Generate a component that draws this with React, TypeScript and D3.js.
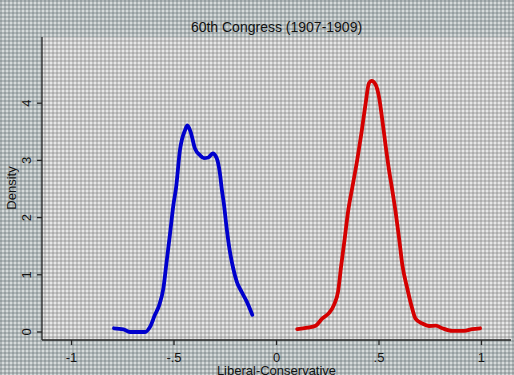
import React from "react";
import * as d3 from "d3";

const demX = [-0.793, -0.747, -0.715, -0.641, -0.617, -0.593, -0.572, -0.552, -0.536, -0.52, -0.503, -0.49, -0.471, -0.446, -0.435, -0.419, -0.398, -0.373, -0.354, -0.333, -0.311, -0.292, -0.276, -0.267, -0.256, -0.243, -0.227, -0.211, -0.194, -0.17, -0.145, -0.118];
const demY = [0.065, 0.047, 0.0, 0.0, 0.09, 0.3, 0.47, 0.76, 1.23, 1.7, 2.22, 2.52, 3.18, 3.53, 3.61, 3.5, 3.21, 3.09, 3.04, 3.05, 3.12, 3.04, 2.77, 2.5, 2.22, 1.81, 1.4, 1.11, 0.88, 0.7, 0.53, 0.3];
const repX = [0.101, 0.15, 0.191, 0.224, 0.256, 0.28, 0.3, 0.316, 0.333, 0.349, 0.37, 0.394, 0.414, 0.435, 0.451, 0.464, 0.484, 0.5, 0.516, 0.533, 0.549, 0.563, 0.581, 0.598, 0.614, 0.638, 0.662, 0.679, 0.711, 0.744, 0.777, 0.809, 0.858, 0.915, 0.955, 0.993];
const repY = [0.05, 0.075, 0.11, 0.24, 0.33, 0.47, 0.7, 1.17, 1.64, 2.1, 2.53, 3.01, 3.47, 4.0, 4.35, 4.39, 4.32, 4.11, 3.71, 3.24, 2.83, 2.52, 2.1, 1.64, 1.17, 0.76, 0.41, 0.23, 0.15, 0.105, 0.11, 0.065, 0.02, 0.02, 0.05, 0.065];
const xTicks = [-1, -0.5, 0, 0.5, 1];
const xTickLabels = ["-1", "-.5", "0", ".5", "1"];
const yTicks = [0, 1, 2, 3, 4];
const title = "60th Congress (1907-1909)";
const xTitle = "Liberal-Conservative";
const yTitle = "Density";

const W = 514, H = 375;
const L = 42, R = 511, T = 37, B = 340;

export default function App() {
  const x = d3.scaleLinear().domain([-1.144, 1.144]).range([L, R]);
  const y = d3.scaleLinear().domain([-0.14, 5.157]).range([B, T]);
  const line = d3.line<number>().curve(d3.curveMonotoneX);
  const demPts: [number, number][] = demX.map((v, i) => [x(v), y(demY[i])]);
  const repPts: [number, number][] = repX.map((v, i) => [x(v), y(repY[i])]);
  const font = "Liberation Sans, Arial, Helvetica, sans-serif";
  return (
    <svg width={W} height={H} style={{ position: "absolute", left: 0, top: 0 }}>
      <defs>
        <pattern id="outer" width={4} height={4} patternUnits="userSpaceOnUse">
          <rect width={4} height={4} fill="#d6dbdb" />
          <rect x={0} y={0} width={2} height={4} fill="rgba(100,112,114,0.34)" />
          <rect x={0} y={0} width={4} height={2} fill="rgba(100,112,114,0.34)" />
        </pattern>
        <pattern id="inner" width={4} height={4} patternUnits="userSpaceOnUse">
          <rect width={4} height={4} fill="#e8e8e8" />
          <rect x={0} y={0} width={2} height={4} fill="rgba(120,120,120,0.32)" />
          <rect x={0} y={0} width={4} height={2} fill="rgba(120,120,120,0.32)" />
        </pattern>
      </defs>
      <rect width={W} height={H} fill="url(#outer)" />
      <rect x={L} y={T} width={R - L} height={B - T} fill="url(#inner)" />
      <path d={line(demPts) || ""} fill="none" stroke="#0000cc" strokeWidth={3.8} strokeLinejoin="round" strokeLinecap="round" />
      <path d={line(repPts) || ""} fill="none" stroke="#d40000" strokeWidth={3.8} strokeLinejoin="round" strokeLinecap="round" />
      <line x1={L} x2={L} y1={T} y2={B} stroke="#222" strokeWidth={1.3} />
      <line x1={L} x2={R} y1={B} y2={B} stroke="#222" strokeWidth={1.3} />
      {yTicks.map((t) => (
        <g key={"y" + t}>
          <line x1={L - 5} x2={L} y1={y(t)} y2={y(t)} stroke="#222" strokeWidth={1.3} />
          <text transform={`translate(${31},${y(t)}) rotate(-90)`} textAnchor="middle" fontFamily={font} fontSize={13} fill="#111">{t}</text>
        </g>
      ))}
      {xTicks.map((t, i) => (
        <g key={"x" + t}>
          <line x1={x(t)} x2={x(t)} y1={B} y2={B + 5} stroke="#222" strokeWidth={1.3} />
          <text x={x(t)} y={362} textAnchor="middle" fontFamily={font} fontSize={13} fill="#111">{xTickLabels[i]}</text>
        </g>
      ))}
      <text x={276.5} y={32} textAnchor="middle" fontFamily={font} fontSize={14} fill="#111">{title}</text>
      <text x={276.5} y={375} textAnchor="middle" fontFamily={font} fontSize={13} fill="#111">{xTitle}</text>
      <text transform={`translate(${16},${188}) rotate(-90)`} textAnchor="middle" fontFamily={font} fontSize={13} fill="#111">{yTitle}</text>
    </svg>
  );
}
